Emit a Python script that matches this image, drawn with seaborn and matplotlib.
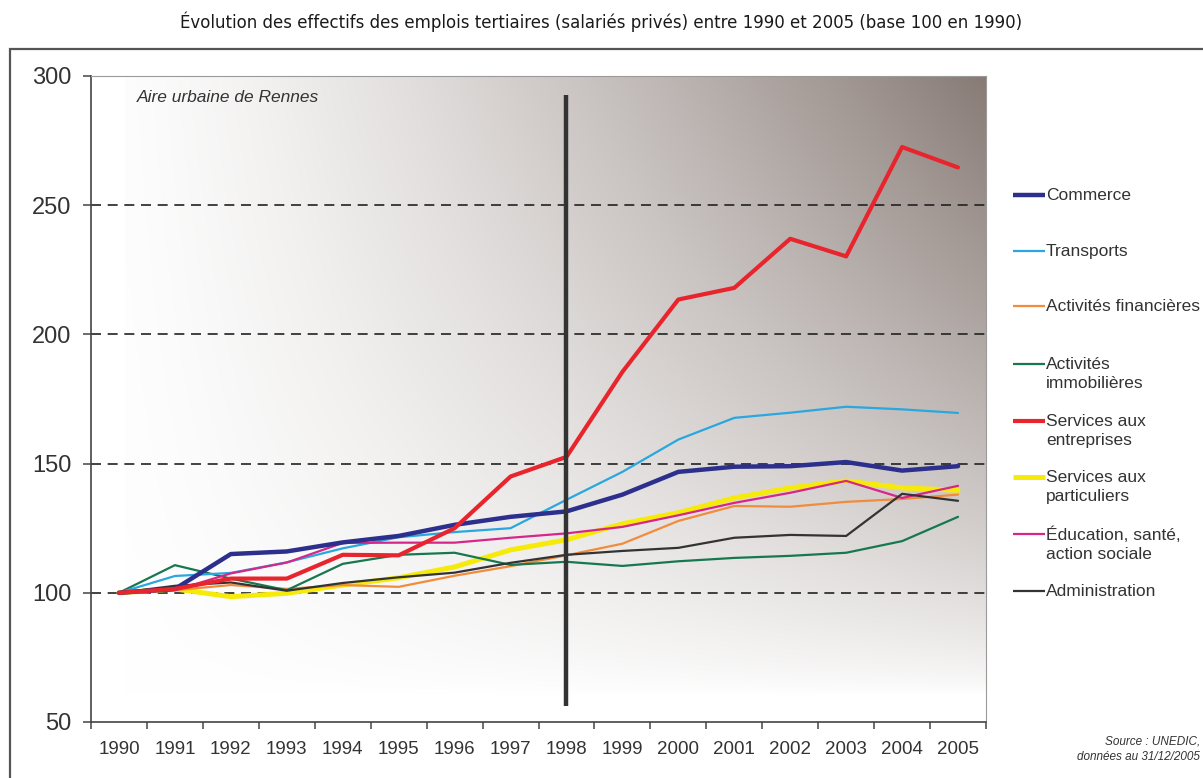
import numpy as np
import pandas as pd
import matplotlib
matplotlib.use("Agg")
import matplotlib.pyplot as plt
from matplotlib.lines import Line2D
from matplotlib.patches import Rectangle
from matplotlib.ticker import FixedLocator
import seaborn as sns

sns.set_theme(style="white")
plt.rcParams["font.family"] = ["Liberation Sans", "DejaVu Sans"]

# --- data (base 100 in 1990) ---
years = list(range(1990, 2006))
commerce = [100, 101.5, 115, 116, 119.5, 122, 126.3, 129.4, 131.5, 138, 146.8, 148.8, 149, 150.6, 147.3, 149]
transports = [100, 106.5, 107.7, 111.8, 117.2, 121.5, 123.5, 125, 136, 146.8, 159.3, 167.7, 169.7, 172, 171, 169.6]
financieres = [100, 101, 103, 101.5, 103, 102.3, 106.6, 110.3, 114.5, 119, 127.8, 133.6, 133.3, 135.2, 136.3, 138]
immobilieres = [100, 110.7, 105.5, 101, 111.2, 114.7, 115.5, 110.8, 112, 110.4, 112.2, 113.5, 114.3, 115.5, 120, 129.4]
entreprises = [100, 101.5, 105.5, 105.5, 114.7, 114.5, 125, 145, 152.6, 185.5, 213.5, 218, 237, 230.2, 272.5, 264.6]
particuliers = [100, 101.5, 98.5, 99.8, 103, 105.8, 110, 116.6, 120.5, 126.7, 131, 136.7, 140.6, 143.3, 140.6, 139.7]
education = [100, 101, 107.5, 111.7, 119.3, 119.4, 119.4, 121.3, 123, 125.5, 130, 134.8, 138.7, 143.3, 136.7, 141.4]
administration = [100, 102.7, 104, 100.8, 103.8, 106, 107.8, 111.6, 114.7, 116.2, 117.4, 121.3, 122.4, 122, 138.3, 135.6]

labels = ["Commerce", "Transports", "Activités financières", "Activités\nimmobilières",
          "Services aux\nentreprises", "Services aux\nparticuliers",
          "Éducation, santé,\naction sociale", "Administration"]
series = [commerce, transports, financieres, immobilieres, entreprises,
          particuliers, education, administration]
colors = ["#2c2f8c", "#2aa7df", "#f28b3a", "#17784f", "#e8252d", "#f6ea0a", "#d62689", "#333333"]
widths = [3.2, 1.6, 1.6, 1.6, 3.0, 3.6, 1.6, 1.6]
draw_order = [5, 2, 3, 1, 6, 7, 0, 4]

W, H = 1203, 778
fig = plt.figure(figsize=(W / 100, H / 100), dpi=100)
fig.patch.set_facecolor("white")

def fx(px):
    return px / W

def fy(py):
    return 1 - py / H

# outer frame
fig.patches.append(Rectangle((fx(10), -0.05), 1.2, fy(49) + 0.05, transform=fig.transFigure,
                             fill=False, edgecolor="#555555", linewidth=1.6, zorder=0))

ax = fig.add_axes([fx(91), fy(722), fx(986) - fx(91), fy(76) - fy(722)])
ax.set_facecolor("white")

# shaded background: dark toward the top-right corner
gw, gh = 500, 400
u = np.linspace(0, 1, gw)[None, :]
v = np.linspace(0, 1, gh)[:, None]
dark = (0.02 + 0.98 * u ** 1.3) * v ** 0.75
c_dark = np.array([136, 123, 118]) / 255.0
img = np.ones((gh, gw, 3)) * (1 - dark[..., None]) + c_dark[None, None, :] * dark[..., None]
ax.imshow(img, origin="lower", extent=[0.038, 1, 0.042, 1], transform=ax.transAxes,
          aspect="auto", zorder=0, interpolation="bilinear")

# horizontal dashed reference lines
for yv in [100, 150, 200, 250]:
    ax.axhline(yv, color="#222222", linewidth=1.2, linestyle=(0, (6, 4)), zorder=1)

# series
for i in draw_order:
    df = pd.DataFrame({"year": years, "value": series[i]})
    sns.lineplot(data=df, x="year", y="value", ax=ax, color=colors[i],
                 linewidth=widths[i], zorder=3 + draw_order.index(i))

# 1998 marker line
ax.vlines(1998, 56, 292.5, color="#333333", linewidth=3.2, zorder=20)

ax.set_xlim(1989.5, 2005.5)
ax.set_ylim(50, 300)
ax.set_xlabel("")
ax.set_ylabel("")
ax.set_xticks(years)
ax.set_xticklabels([str(y) for y in years], fontsize=13.5, color="#333333")
ax.xaxis.set_minor_locator(FixedLocator([y - 0.5 for y in years] + [2005.5]))
ax.tick_params(axis="x", which="major", length=0, pad=14)
ax.tick_params(axis="x", which="minor", length=5, width=1.1, color="#444444", bottom=True)
ax.set_yticks([50, 100, 150, 200, 250, 300])
ax.set_yticklabels(["50", "100", "150", "200", "250", "300"], fontsize=17, color="#333333")
ax.tick_params(axis="y", length=6, width=1.1, color="#444444", pad=8, left=True)

for side in ["left", "bottom"]:
    ax.spines[side].set_color("#444444")
    ax.spines[side].set_linewidth(1.2)
for side in ["top", "right"]:
    ax.spines[side].set_color("#9a9a9a")
    ax.spines[side].set_linewidth(0.8)

ax.text(fx(137 - 91) / (fx(986) - fx(91)), 0.967, "Aire urbaine de Rennes",
        transform=ax.transAxes, fontsize=12.5, style="italic", color="#333333",
        ha="left", va="center", zorder=25)

# legend on the right
legend_y = [195, 251, 306, 364, 421, 477, 534, 591]
for i, py in enumerate(legend_y):
    fig.lines.append(Line2D([fx(1013), fx(1045)], [fy(py), fy(py)], transform=fig.transFigure,
                            color=colors[i], linewidth=widths[i], solid_capstyle="butt"))
    fig.text(fx(1046), fy(py - 7), labels[i], fontsize=12.5, color="#333333",
             ha="left", va="top", linespacing=1.3)

# title
fig.text(0.5, fy(22), "Évolution des effectifs des emplois tertiaires (salariés privés) entre 1990 et 2005 (base 100 en 1990)",
         ha="center", va="center", fontsize=12.0, color="#1a1a1a",
         family=["DejaVu Sans"])

# source
fig.text(fx(1200), fy(742), "Source : UNEDIC,", fontsize=8.5, style="italic", color="#333333",
         ha="right", va="center")
fig.text(fx(1200), fy(757), "données au 31/12/2005", fontsize=8.5, style="italic", color="#333333",
         ha="right", va="center")

fig.savefig("out.png", dpi=100)
